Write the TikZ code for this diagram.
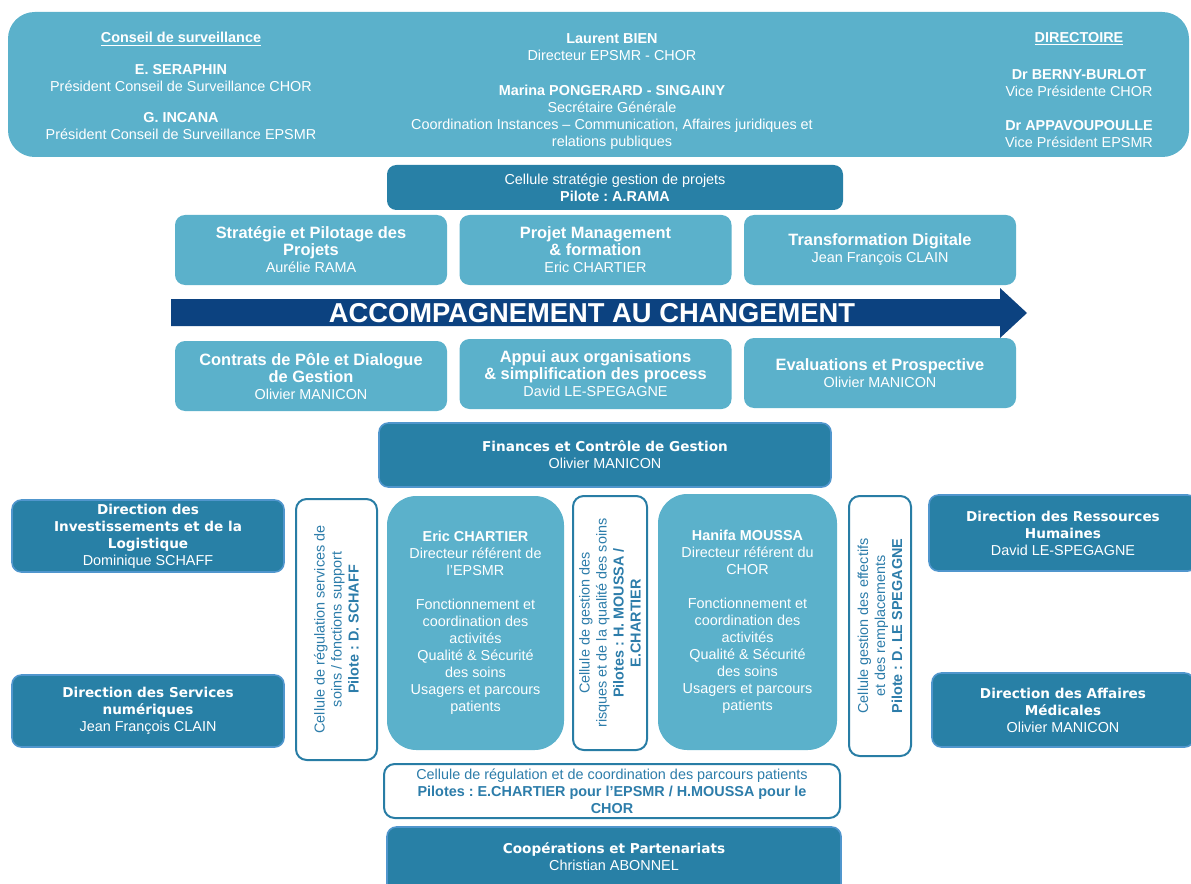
\documentclass[tikz,border=0pt]{standalone}
\usepackage{fontspec}
\setmainfont{Liberation Sans}
\newfontfamily\widefam{DejaVu Sans}
\definecolor{lb}{RGB}{91,177,203}
\definecolor{db}{RGB}{40,128,166}
\definecolor{dbb}{RGB}{80,150,205}
\definecolor{cb}{RGB}{40,125,165}
\definecolor{ct}{RGB}{45,125,170}
\definecolor{arr}{RGB}{12,66,128}
\frenchspacing
\newcommand\fs{\fontsize{10.8}{12.75}\selectfont}
\newcommand\wt{\widefam\bfseries\fontsize{10.2}{12.75}\selectfont}
\newcommand\B[1]{\textbf{#1}}
\newcommand\T[1]{{\bfseries\fontsize{12.3}{12.75}\selectfont #1}}
\begin{document}
\begin{tikzpicture}[x=0.75pt,y=-0.75pt,
  base/.style={align=center, inner sep=0pt, font=\fs},
  txt/.style={base, text=white},
  lbox/.style={base, fill=lb, rounded corners=7.5pt, text=white},
  dbox/.style={base, fill=db, draw=dbb, line width=1.2pt, rounded corners=7pt, text=white},
  cell/.style={base, fill=white, draw=cb, line width=1.5pt, rounded corners=8pt, text=ct},
  big/.style={base, fill=lb, rounded corners=22pt, text=white},
  rowbox/.style={lbox, minimum width=204pt, minimum height=52.5pt},
  sidebox/.style={dbox, minimum height=54pt}
]
\useasboundingbox (0,0) rectangle (1191,884);

% top banner
\node[lbox, rounded corners=20pt, minimum width=885.75pt, minimum height=108.75pt] (banner) at (598.5,84.5) {};
\node[txt] (cs) at (181,39) {\B{\underline{Conseil de surveillance}}};
\node[txt] (es) at (181,78) {\B{E. SERAPHIN}\\Président Conseil de Surveillance CHOR};
\node[txt] (gi) at (181,126) {\B{G. INCANA}\\Président Conseil de Surveillance EPSMR};
\node[txt] (lbien) at (612,47) {\B{Laurent BIEN}\\Directeur EPSMR - CHOR};
\node[txt] (mp) at (612,117) {\B{Marina PONGERARD - SINGAINY}\\Secrétaire Générale\\Coordination Instances – Communication, Affaires juridiques et\\relations publiques};
\node[txt] (dir) at (1079,39) {\B{\underline{DIRECTOIRE}}};
\node[txt] (bb) at (1079,83.5) {\B{Dr BERNY-BURLOT}\\Vice Présidente CHOR};
\node[txt] (ap) at (1079,134) {\B{Dr APPAVOUPOULLE}\\Vice Président EPSMR};

% cellule strategie
\node[dbox, draw=none, minimum width=342pt, minimum height=33.75pt] (csg) at (615,187.5) {Cellule stratégie gestion de projets\\\B{Pilote : A.RAMA}};

% row 1
\node[rowbox] (spp) at (311,250) {\T{Stratégie et Pilotage des}\\\T{Projets}\\Aurélie RAMA};
\node[rowbox] (pmf) at (595.5,250) {\T{Projet Management}\\\T{\& formation}\\Eric CHARTIER};
\node[rowbox] (td) at (880,250) {\T{Transformation Digitale}\\Jean François CLAIN};

% arrow
\fill[arr] (171,299) -- (1000,299) -- (1000,288) -- (1027,313) -- (1000,338) -- (1000,326) -- (171,326) -- cycle;
\node[txt, font=\bfseries\fontsize{20.5}{21}\selectfont] (acc) at (592,313) {ACCOMPAGNEMENT AU CHANGEMENT};

% row 2
\node[rowbox] (cpd) at (311,376) {\T{Contrats de Pôle et Dialogue}\\\T{de Gestion}\\Olivier MANICON};
\node[rowbox] (aos) at (595.5,374) {\T{Appui aux organisations}\\\T{\& simplification des process}\\David LE-SPEGAGNE};
\node[rowbox] (evp) at (880,373) {\T{Evaluations et Prospective}\\Olivier MANICON};

% finances
\node[dbox, minimum width=339pt, minimum height=48pt] (fin) at (605,455) {{\wt Finances et Contrôle de Gestion}\\Olivier MANICON};

% side boxes
\node[sidebox, minimum width=204pt] (dil) at (148,536) {{\wt Direction des}\\{\wt Investissements et de la}\\{\wt Logistique}\\Dominique SCHAFF};
\node[sidebox, minimum width=204pt] (dsn) at (148,711) {{\wt Direction des Services}\\{\wt numériques}\\Jean François CLAIN};
\node[sidebox, minimum width=201pt, minimum height=57pt] (drh) at (1063,533) {{\wt Direction des Ressources}\\{\wt Humaines}\\David LE-SPEGAGNE};
\node[sidebox, minimum width=196.5pt, minimum height=55.5pt] (dam) at (1063,710) {{\wt Direction des Affaires}\\{\wt Médicales}\\Olivier MANICON};

% vertical cells
\node[cell, rotate=90, minimum width=195.75pt, minimum height=60.75pt] (c1) at (336.5,629.5) {Cellule de régulation services de\\soins / fonctions support\\\B{Pilote : D. SCHAFF}};
\node[cell, rotate=90, minimum width=190.5pt, minimum height=55.5pt] (c2) at (610,623) {Cellule de gestion des\\risques et de la qualité des soins\\\B{Pilotes : H. MOUSSA /}\\\B{E.CHARTIER}};
\node[cell, rotate=90, minimum width=195pt, minimum height=46.5pt] (c3) at (880,626) {Cellule gestion des effectifs\\et des remplacements\\\B{Pilote : D. LE SPEGAGNE}};

% big boxes
\node[big, minimum width=132.75pt, minimum height=190.5pt] (ec) at (475.5,623) {\B{Eric CHARTIER}\\Directeur référent de\\l’EPSMR\\[12.75pt]Fonctionnement et\\coordination des\\activités\\Qualité \& Sécurité\\des soins\\Usagers et parcours\\patients};
\node[big, minimum width=134.25pt, minimum height=192pt] (hm) at (747.5,622) {\B{Hanifa MOUSSA}\\Directeur référent du\\CHOR\\[12.75pt]Fonctionnement et\\coordination des\\activités\\Qualité \& Sécurité\\des soins\\Usagers et parcours\\patients};

% bottom
\node[cell, minimum width=342pt, minimum height=40.5pt] (cp) at (612,791) {Cellule de régulation et de coordination des parcours patients\\\B{Pilotes : E.CHARTIER pour l’EPSMR / H.MOUSSA pour le}\\\B{CHOR}};
\node[dbox, minimum width=340.5pt, minimum height=58.5pt] (coopbox) at (614,866) {};
\node[txt] (coop) at (614,857) {{\wt Coopérations et Partenariats}\\Christian ABONNEL};
\end{tikzpicture}
\end{document}
